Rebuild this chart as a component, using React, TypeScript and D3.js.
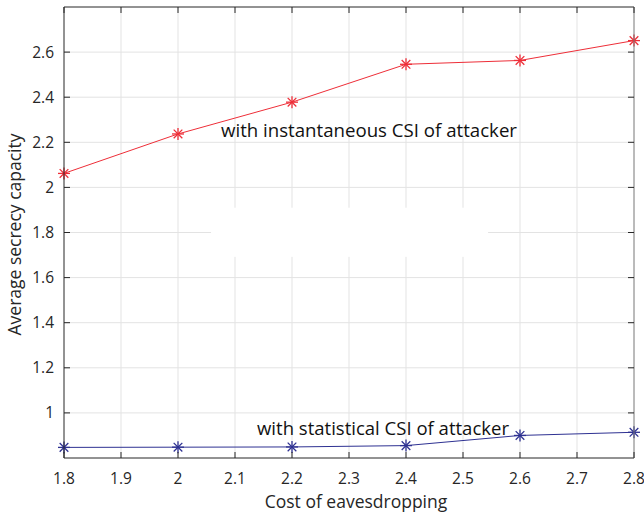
import React from "react";
import * as d3 from "d3";

const costs = [1.8, 2.0, 2.2, 2.4, 2.6, 2.8];
const instantaneous = [2.062, 2.237, 2.378, 2.546, 2.563, 2.651];
const statistical = [0.847, 0.848, 0.849, 0.855, 0.9, 0.914];
const xTicks = [1.8, 1.9, 2.0, 2.1, 2.2, 2.3, 2.4, 2.5, 2.6, 2.7, 2.8];
const yTicks = [1.0, 1.2, 1.4, 1.6, 1.8, 2.0, 2.2, 2.4, 2.6];
const labelInstant = "with instantaneous CSI of attacker";
const labelStat = "with statistical CSI of attacker";
const xTitle = "Cost of eavesdropping";
const yTitle = "Average secrecy capacity";

const W = 644;
const H = 516;
const L = 64, R = 634, T = 7, B = 458;
const FONT = "'Open Sans', 'Noto Sans', sans-serif";
const RED = "#ee2e38";
const BLUE = "#2e3192";

function Star({ x, y, color }: { x: number; y: number; color: string }) {
  const r = 6;
  const d = r * 0.72;
  return (
    <g stroke={color} strokeWidth={1.3}>
      <line x1={x - r} y1={y} x2={x + r} y2={y} />
      <line x1={x} y1={y - r} x2={x} y2={y + r} />
      <line x1={x - d} y1={y - d} x2={x + d} y2={y + d} />
      <line x1={x - d} y1={y + d} x2={x + d} y2={y - d} />
    </g>
  );
}

export default function App() {
  const x = d3.scaleLinear().domain([1.8, 2.8]).range([L, R]);
  const y = d3.scaleLinear().domain([0.8, 2.8]).range([B, T]);
  const line = d3
    .line<number>()
    .x((_, i) => x(costs[i]))
    .y((v) => y(v));
  const fmt = (v: number) => d3.format("~g")(+v.toFixed(2));
  const tl = 6;

  return (
    <svg
      width={W}
      height={H}
      style={{ position: "absolute", left: 0, top: 0, background: "#fff" }}
      fontFamily={FONT}
    >
      <rect x={0} y={0} width={W} height={H} fill="#fff" />
      {/* grid */}
      <g stroke="#e3e3e3" strokeWidth={1}>
        {xTicks.slice(1, -1).map((t) => (
          <line key={"gx" + t} x1={x(t)} x2={x(t)} y1={T} y2={B} />
        ))}
        {yTicks.map((t) => (
          <line key={"gy" + t} x1={L} x2={R} y1={y(t)} y2={y(t)} />
        ))}
      </g>
      {/* blank annotation box */}
      <rect
        x={x(2.058)}
        y={y(1.91)}
        width={x(2.544) - x(2.058)}
        height={y(1.692) - y(1.91)}
        fill="#fff"
      />
      {/* series */}
      <path d={line(instantaneous) || ""} fill="none" stroke={RED} strokeWidth={1} />
      <path d={line(statistical) || ""} fill="none" stroke={BLUE} strokeWidth={1} />
      {instantaneous.map((v, i) => (
        <Star key={"r" + i} x={x(costs[i])} y={y(v)} color={RED} />
      ))}
      {statistical.map((v, i) => (
        <Star key={"b" + i} x={x(costs[i])} y={y(v)} color={BLUE} />
      ))}
      {/* axes box */}
      <g stroke="#262626" strokeWidth={1} fill="none">
        <line x1={L} x2={L} y1={T} y2={B} />
        <line x1={L} x2={R} y1={B} y2={B} />
        <line x1={L} x2={R} y1={T} y2={T} />
        <line x1={R} x2={R} y1={T} y2={B} stroke="#777" />
        {xTicks.map((t) => (
          <g key={"tx" + t}>
            <line x1={x(t)} x2={x(t)} y1={B} y2={B - tl} />
            <line x1={x(t)} x2={x(t)} y1={T} y2={T + tl} />
          </g>
        ))}
        {yTicks.map((t) => (
          <g key={"ty" + t}>
            <line x1={L} x2={L + tl} y1={y(t)} y2={y(t)} />
            <line x1={R} x2={R - tl} y1={y(t)} y2={y(t)} />
          </g>
        ))}
      </g>
      {/* tick labels */}
      <g fontSize={15.5} fill="#262626">
        {xTicks.map((t) => (
          <text key={"lx" + t} x={x(t)} y={484} textAnchor="middle">
            {fmt(t)}
          </text>
        ))}
        {yTicks.map((t) => (
          <text key={"ly" + t} x={54} y={y(t) + 5.5} textAnchor="end">
            {fmt(t)}
          </text>
        ))}
      </g>
      {/* titles */}
      <text x={(L + R) / 2 + 7} y={508} fontSize={17.5} fill="#262626" textAnchor="middle">
        {xTitle}
      </text>
      <text
        transform={`translate(21, ${(T + B) / 2 + 2}) rotate(-90)`}
        fontSize={17.5}
        fill="#262626"
        textAnchor="middle"
      >
        {yTitle}
      </text>
      {/* annotations */}
      <text x={221} y={137} fontSize={17.5} fill="#111" textLength={296} lengthAdjust="spacingAndGlyphs">
        {labelInstant}
      </text>
      <text x={257} y={435} fontSize={17.5} fill="#111" textLength={252} lengthAdjust="spacingAndGlyphs">
        {labelStat}
      </text>
    </svg>
  );
}
